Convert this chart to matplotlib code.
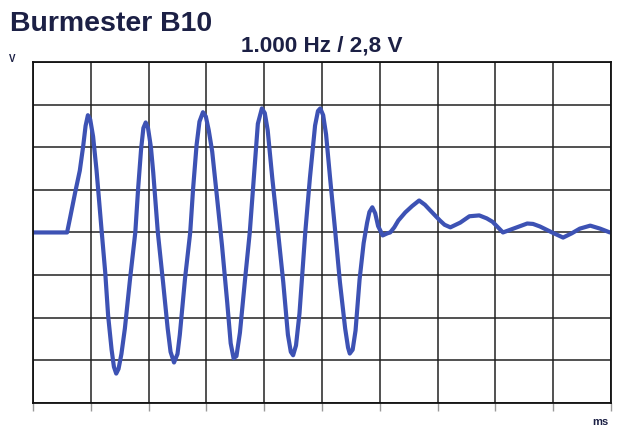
import matplotlib
matplotlib.use('Agg')
import matplotlib.pyplot as plt

# Burmester B10 - tone burst 1 kHz
# time in ms (one grid column = 1 ms), voltage in grid units
zeit_ms = [0.0, 0.59, 0.64, 0.73, 0.81, 0.87, 0.91, 0.95, 0.99, 1.04,
           1.10, 1.19, 1.25, 1.30, 1.36, 1.40, 1.44, 1.48, 1.53, 1.59,
           1.68, 1.77, 1.82, 1.87, 1.91, 1.95, 1.99, 2.04, 2.08, 2.16,
           2.25, 2.33, 2.38, 2.44, 2.50, 2.54, 2.63, 2.72, 2.77, 2.83,
           2.88, 2.94, 2.99, 3.04, 3.10, 3.18, 3.27, 3.36, 3.42, 3.47,
           3.52, 3.58, 3.67, 3.75, 3.84, 3.89, 3.96, 4.01, 4.06, 4.14,
           4.24, 4.33, 4.41, 4.46, 4.50, 4.55, 4.61, 4.71, 4.79, 4.88,
           4.93, 4.97, 5.02, 5.07, 5.14, 5.23, 5.31, 5.40, 5.45, 5.48,
           5.53, 5.58, 5.65, 5.72, 5.78, 5.82, 5.87, 5.92, 5.97, 6.05,
           6.13, 6.18, 6.25, 6.32, 6.44, 6.56, 6.68, 6.78, 6.87, 7.04,
           7.12, 7.22, 7.39, 7.55, 7.72, 7.85, 7.95, 8.13, 8.37, 8.55,
           8.65, 8.77, 8.98, 9.17, 9.32, 9.46, 9.64, 9.81, 9.98]
spannung = [0.0, 0.0, 0.33, 0.94, 1.45, 2.04, 2.50, 2.75, 2.65, 2.25,
            1.45, 0.0, -0.94, -1.95, -2.75, -3.15, -3.31, -3.20, -2.85, -2.25,
            -1.08, 0.0, 1.05, 1.95, 2.45, 2.58, 2.45, 2.00, 1.41, 0.0,
            -1.17, -2.25, -2.80, -3.05, -2.85, -2.40, -1.08, 0.0, 1.03, 2.05,
            2.60, 2.82, 2.72, 2.40, 1.90, 0.87, -0.31, -1.64, -2.60, -2.95,
            -2.90, -2.35, -1.08, 0.0, 1.64, 2.55, 2.91, 2.80, 2.40, 1.27,
            0.0, -1.17, -2.40, -2.80, -2.88, -2.65, -1.90, 0.0, 1.27, 2.51,
            2.85, 2.91, 2.75, 2.30, 1.27, 0.0, -1.17, -2.25, -2.70, -2.84,
            -2.75, -2.30, -1.10, -0.25, 0.23, 0.48, 0.59, 0.45, 0.15, -0.07,
            -0.02, 0.0, 0.12, 0.28, 0.47, 0.62, 0.75, 0.65, 0.52, 0.28,
            0.18, 0.12, 0.23, 0.38, 0.40, 0.33, 0.25, 0.0, 0.12, 0.21,
            0.20, 0.14, 0.0, -0.12, -0.02, 0.09, 0.16, 0.09, 0.0]

x_teilung = list(range(0, 11))
y_teilung = list(range(-4, 5))

fig = plt.figure(figsize=(6.21, 4.30), dpi=100)
ax = fig.add_axes([0.0531, 0.0628, 0.9309, 0.7932])

ax.plot(zeit_ms, spannung, color='#3d52b4', linewidth=3.0,
        solid_joinstyle='round', solid_capstyle='round')

ax.set_xlim(0, 10)
ax.set_ylim(-4, 4)
ax.set_xticks(x_teilung)
ax.set_yticks(y_teilung)
ax.grid(True, color='#222222', linewidth=1.1)
ax.set_axisbelow(True)
ax.tick_params(axis='x', length=6, width=1.0, color='#999999', labelbottom=False)
ax.tick_params(axis='y', length=0, labelleft=False)
for s in ax.spines.values():
    s.set_color('#111111')
    s.set_linewidth(1.3)

textfarbe = '#1c2045'
fig.text(0.016, 0.945, 'Burmester B10', fontsize=20.5, fontweight='bold',
         color=textfarbe, ha='left', va='center', family='Liberation Sans')
fig.text(0.518, 0.893, '1.000 Hz / 2,8 V', fontsize=16.2, fontweight='bold',
         color=textfarbe, ha='center', va='center', family='Liberation Sans')
fig.text(0.019, 0.862, 'V', fontsize=7, fontweight='bold',
         color=textfarbe, ha='center', va='center', family='Liberation Sans')
fig.text(0.967, 0.018, 'ms', fontsize=8, fontweight='bold',
         color=textfarbe, ha='center', va='center', family='Liberation Sans')

plt.savefig('out.png', dpi=100)
